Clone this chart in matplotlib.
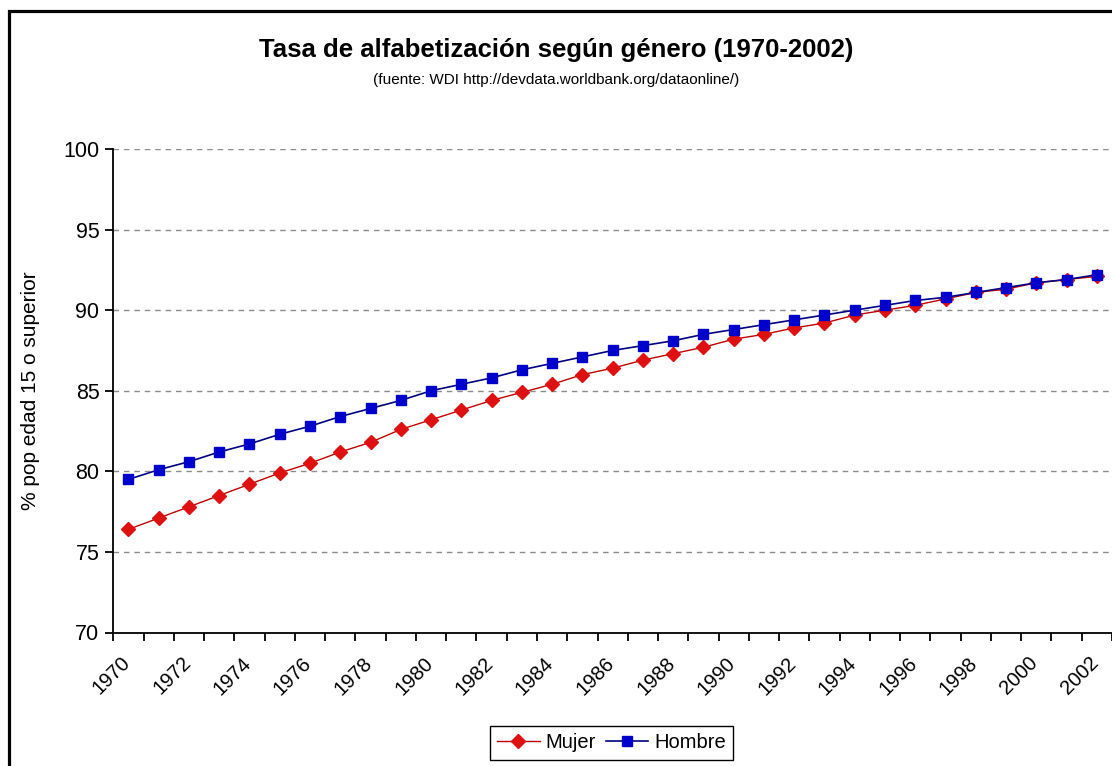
import matplotlib
matplotlib.use("Agg")
import matplotlib.pyplot as plt
import numpy as np
from matplotlib.patches import Rectangle
from matplotlib.transforms import ScaledTranslation

plt.rcParams['font.family'] = ['Liberation Sans', 'DejaVu Sans']

# data
years = list(range(1970, 2003))
mujer = [76.4, 77.1, 77.8, 78.5, 79.2, 79.9, 80.5, 81.2, 81.8, 82.6, 83.2,
         83.8, 84.4, 84.9, 85.4, 86.0, 86.4, 86.9, 87.3, 87.7, 88.2, 88.5,
         88.9, 89.2, 89.7, 90.0, 90.3, 90.7, 91.1, 91.3, 91.7, 91.9, 92.1]
hombre = [79.5, 80.1, 80.6, 81.2, 81.7, 82.3, 82.8, 83.4, 83.9, 84.4, 85.0,
          85.4, 85.8, 86.3, 86.7, 87.1, 87.5, 87.8, 88.1, 88.5, 88.8, 89.1,
          89.4, 89.7, 90.0, 90.3, 90.6, 90.8, 91.1, 91.4, 91.7, 91.9, 92.2]
year_labels = [str(y) for y in years[::2]]

title = "Tasa de alfabetización según género (1970-2002)"
subtitle = "(fuente: WDI http://devdata.worldbank.org/dataonline/)"
ylabel = "% pop edad 15 o superior"

W, H = 1112, 766
fig = plt.figure(figsize=(W / 100, H / 100), dpi=100)
ax = fig.add_axes([113.3 / W, 1 - 632.5 / H, 1 - 113.3 / W, (632.5 - 149) / H])

x = np.arange(len(years))
ax.plot(x, mujer, color='#c00000', lw=1.0, marker='D', ms=7,
        mfc='#dd1111', mec='#dd1111', label='Mujer', zorder=3)
ax.plot(x, hombre, color='#000080', lw=1.2, marker='s', ms=6.5,
        mfc='#0000cc', mec='#0000cc', label='Hombre', zorder=4)

ax.set_xlim(-0.5, len(years) - 0.5)
ax.set_ylim(70, 100)
ax.set_yticks(np.arange(70, 101, 5))
ax.yaxis.grid(True, linestyle=(0, (4, 3.5)), color='#8c8c8c', lw=1.0)
ax.set_axisbelow(True)

# category axis: ticks between categories, labels every other year
ax.set_xticks(np.arange(-0.5, len(years), 1))
ax.set_xticklabels([])
ax.set_xticks(x[::2], minor=True)
ax.set_xticklabels(year_labels, minor=True, rotation=45, ha='right',
                   va='top', rotation_mode='anchor', fontsize=14.5)
ax.tick_params(axis='x', which='major', direction='out', length=6, width=1.3)
ax.tick_params(axis='x', which='minor', length=0, pad=15)
for lab in ax.get_xticklabels(minor=True):
    lab.set_transform(lab.get_transform() + ScaledTranslation(-0.08, 0, fig.dpi_scale_trans))

ax.tick_params(axis='y', direction='out', length=6, width=1.3, labelsize=15.5, pad=4)
for s in ['top', 'right']:
    ax.spines[s].set_visible(False)
for s in ['left', 'bottom']:
    ax.spines[s].set_linewidth(1.3)

ax.set_ylabel(ylabel, fontsize=15)
ax.yaxis.label.set_va('center')
ax.yaxis.set_label_coords(-(113.3 - 31) / (W - 113.3), 0.5)

fig.text(0.5, 1 - 50 / H, title, ha='center', va='center', fontsize=18.5, fontweight='bold')
fig.text(0.5, 1 - 80 / H, subtitle, ha='center', va='center', fontsize=11)

fig.legend(loc='center', bbox_to_anchor=(611.7 / W, 1 - 743 / H), ncol=2,
           frameon=True, fancybox=False, edgecolor='black', framealpha=1,
           fontsize=14.5, handlelength=2.1, handletextpad=0.3, columnspacing=0.5,
           borderpad=0.35)

# outer chart border (cropped on right and bottom)
fig.patches.append(Rectangle((8.7 / W, -0.1), 1.2, 1 - 11 / H + 0.1,
                             transform=fig.transFigure, fill=False,
                             edgecolor='black', lw=2.3))

fig.savefig('out.png', dpi=100)
